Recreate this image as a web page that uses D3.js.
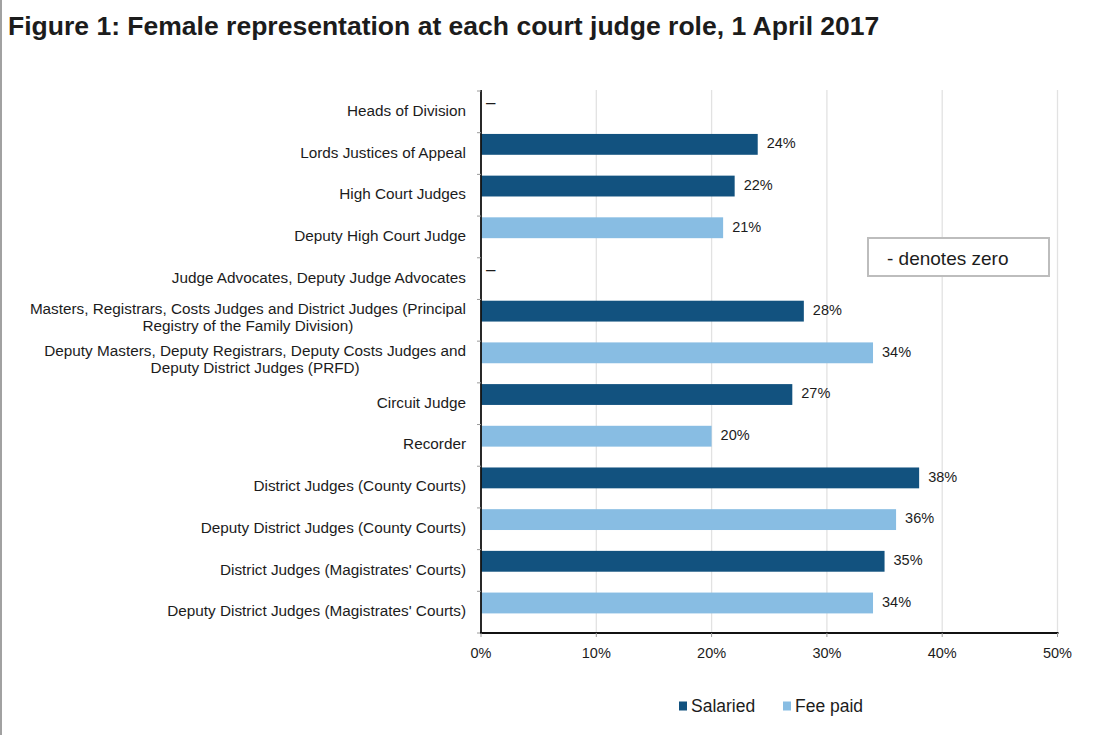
<!DOCTYPE html>
<html>
<head>
<meta charset="utf-8">
<script src="https://cdn.jsdelivr.net/npm/d3@7"></script>
<style>
  html, body { margin: 0; padding: 0; background: #fff; }
  svg { display: block; }
  text { font-family: "Liberation Sans", Arial, Helvetica, sans-serif; fill: #1c1c1c; }
</style>
</head>
<body>
<svg id="chart" width="1105" height="735"></svg>
<script>
// Judicial roles, top to bottom (lines split where the label wraps)
const roles = [
  ["Heads of Division"],
  ["Lords Justices of Appeal"],
  ["High Court Judges"],
  ["Deputy High Court Judge"],
  ["Judge Advocates, Deputy Judge Advocates"],
  ["Masters, Registrars, Costs Judges and District Judges (Principal", "Registry of the Family Division)"],
  ["Deputy Masters, Deputy Registrars, Deputy Costs Judges and", "Deputy District Judges (PRFD)"],
  ["Circuit Judge"],
  ["Recorder"],
  ["District Judges (County Courts)"],
  ["Deputy District Judges (County Courts)"],
  ["District Judges (Magistrates' Courts)"],
  ["Deputy District Judges (Magistrates' Courts)"]
];

// Female share (%) per role; null where the role is not of that type
const salaried = [0, 24, 22, null, 0, 28, null, 27, null, 38, null, 35, null];
const feePaid  = [null, null, null, 21, null, null, 34, null, 20, null, 36, null, 34];

const xTicks = [0, 10, 20, 30, 40, 50];
const seriesNames = ["Salaried", "Fee paid"];
const seriesColors = ["#12527f", "#88bde3"];

const titleText = "Figure 1: Female representation at each court judge role, 1 April 2017";
const noteText = "- denotes zero";

const svg = d3.select("#chart");
const W = 1105, H = 735;
const plot = { left: 481, right: 1057.5, top: 91, bottom: 633 };

// page edge rule on the left
svg.append("line")
  .attr("x1", 1).attr("x2", 1).attr("y1", 0).attr("y2", H)
  .attr("stroke", "#8a8a8a").attr("stroke-width", 1.6);

// title, sized to span its line
const title = svg.append("text")
  .attr("x", 8).attr("y", 35)
  .attr("font-weight", "bold")
  .attr("font-size", 22)
  .text(titleText);
const tw = title.node().getComputedTextLength();
title.attr("font-size", 22 * 872 / tw);

const keys = roles.map((r, i) => "r" + i);
const x = d3.scaleLinear().domain([0, 50]).range([plot.left, plot.right]);
const y = d3.scaleBand().domain(keys).range([plot.top, plot.bottom]).padding(0);
const bw = y.bandwidth();

// vertical gridlines
svg.append("g").selectAll("line")
  .data(xTicks.slice(1))
  .join("line")
  .attr("x1", d => x(d)).attr("x2", d => x(d))
  .attr("y1", plot.top - 1).attr("y2", plot.bottom)
  .attr("stroke", "#e2e2e2").attr("stroke-width", 1.3);

// bars
const rows = [];
keys.forEach((k, i) => {
  if (salaried[i] !== null) rows.push({ k, v: salaried[i], s: 0 });
  if (feePaid[i] !== null) rows.push({ k, v: feePaid[i], s: 1 });
});

const barTop = d => y(d.k) + bw * 0.03;
const barH = bw * 0.5;

svg.append("g").selectAll("rect")
  .data(rows.filter(d => d.v > 0))
  .join("rect")
  .attr("x", x(0))
  .attr("y", barTop)
  .attr("width", d => x(d.v) - x(0))
  .attr("height", barH)
  .attr("fill", d => seriesColors[d.s]);

// value labels ("–" for zero)
svg.append("g").selectAll("text")
  .data(rows)
  .join("text")
  .attr("x", d => d.v > 0 ? x(d.v) + 9 : x(0) + 5)
  .attr("y", d => barTop(d) + barH / 2 + (d.v > 0 ? 0 : 1))
  .attr("dominant-baseline", "middle")
  .attr("font-size", d => d.v > 0 ? 14.5 : 17)
  .text(d => d.v > 0 ? d.v + "%" : "–");

// y axis: line, boundary ticks and category labels
const yAxis = svg.append("g");
yAxis.append("line")
  .attr("x1", plot.left).attr("x2", plot.left)
  .attr("y1", plot.top - 1).attr("y2", plot.bottom + 1)
  .attr("stroke", "#111").attr("stroke-width", 1.8);
yAxis.selectAll("line.tk")
  .data(d3.range(keys.length + 1))
  .join("line").attr("class", "tk")
  .attr("x1", plot.left - 4).attr("x2", plot.left)
  .attr("y1", i => plot.top + i * bw).attr("y2", i => plot.top + i * bw)
  .attr("stroke", "#9a9a9a").attr("stroke-width", 1);

const labelRight = 466;
const lineGap = 17;
roles.forEach((lines, i) => {
  const cy = y(keys[i]) + bw / 2;
  const g = yAxis.append("text")
    .attr("font-size", 15.3)
    .attr("dominant-baseline", "middle");
  if (lines.length === 1) {
    g.attr("x", labelRight).attr("y", cy).attr("text-anchor", "end").text(lines[0]);
  } else {
    // wrapped labels: lines centred on each other, block right-aligned
    g.attr("text-anchor", "middle");
    const spans = g.selectAll("tspan").data(lines).join("tspan")
      .attr("y", (d, j) => cy + (j - (lines.length - 1) / 2) * lineGap - 2)
      .text(d => d);
    const widths = spans.nodes().map(n => n.getComputedTextLength());
    const maxW = d3.max(widths);
    spans.attr("x", labelRight - maxW / 2);
  }
});

// x axis
const xAxis = svg.append("g");
xAxis.append("line")
  .attr("x1", plot.left - 1).attr("x2", plot.right + 1)
  .attr("y1", plot.bottom).attr("y2", plot.bottom)
  .attr("stroke", "#111").attr("stroke-width", 1.8);
xAxis.selectAll("line.tk")
  .data(xTicks)
  .join("line").attr("class", "tk")
  .attr("x1", d => x(d)).attr("x2", d => x(d))
  .attr("y1", plot.bottom).attr("y2", plot.bottom + 4)
  .attr("stroke", "#9a9a9a").attr("stroke-width", 1);
xAxis.selectAll("text")
  .data(xTicks)
  .join("text")
  .attr("x", d => x(d)).attr("y", plot.bottom + 21)
  .attr("text-anchor", "middle")
  .attr("dominant-baseline", "middle")
  .attr("font-size", 14.5)
  .text(d => d + "%");

// note box
const note = svg.append("g");
note.append("rect")
  .attr("x", 868).attr("y", 238).attr("width", 181).attr("height", 38)
  .attr("fill", "#fff").attr("stroke", "#bdbdbd").attr("stroke-width", 2);
note.append("text")
  .attr("x", 887).attr("y", 260)
  .attr("dominant-baseline", "middle")
  .attr("font-size", 19)
  .text(noteText);

// legend
const legendX = [679, 783];
const legend = svg.append("g").selectAll("g")
  .data(seriesNames)
  .join("g")
  .attr("transform", (d, i) => `translate(${legendX[i]},706)`);
legend.append("rect")
  .attr("x", 0).attr("y", -4.5).attr("width", 8).attr("height", 9)
  .attr("fill", (d, i) => seriesColors[i]);
legend.append("text")
  .attr("x", 12).attr("y", 1)
  .attr("dominant-baseline", "middle")
  .attr("font-size", 17.5)
  .text(d => d);
</script>
</body>
</html>
